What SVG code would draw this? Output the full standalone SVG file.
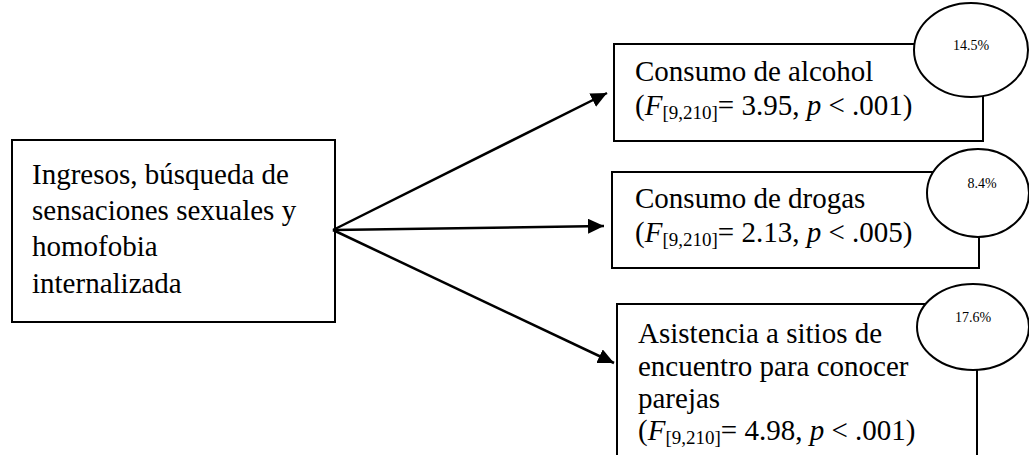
<svg xmlns="http://www.w3.org/2000/svg" width="1029" height="455" viewBox="0 0 1029 455">
<style>
.box{fill:#fff;stroke:#000;stroke-width:2}
.ell{fill:#fff;stroke:#000;stroke-width:2}
.t{font-family:"Liberation Serif","Times New Roman",serif;font-size:29px;fill:#000}
.pct{font-family:"Liberation Serif","Times New Roman",serif;font-size:14px;fill:#000;text-anchor:middle}
.sub{font-size:19px}
.it{font-style:italic}
.conn{stroke:#000;stroke-width:2.5;fill:none}
</style>
<defs>
<marker id="ah" markerUnits="userSpaceOnUse" markerWidth="18" markerHeight="16" refX="16" refY="7.5" orient="auto">
<path d="M0,0 L16,7.5 L0,15 z" fill="#000"/>
</marker>
</defs>
<g id="source">
<rect class="box" x="12" y="140" width="323" height="182"/>
<text class="t" x="32" y="184">Ingresos, búsqueda de</text>
<text class="t" x="32" y="220">sensaciones sexuales y</text>
<text class="t" x="32" y="256">homofobia</text>
<text class="t" x="32" y="293">internalizada</text>
</g>
<g id="alcohol">
<rect class="box" x="614" y="44" width="369" height="97"/>
<text class="t" x="635" y="81">Consumo de alcohol</text>
<text class="t" x="635" y="115">(<tspan class="it">F</tspan><tspan class="sub" dy="4">[9,210]</tspan><tspan dy="-4">= 3.95, </tspan><tspan class="it">p</tspan> &lt; .001)</text>
<ellipse class="ell" cx="971" cy="50" rx="57" ry="47"/>
<text class="pct" x="971" y="50">14.5%</text>
</g>
<g id="drogas">
<rect class="box" x="612" y="172" width="367" height="96"/>
<text class="t" x="635" y="208">Consumo de drogas</text>
<text class="t" x="635" y="242">(<tspan class="it">F</tspan><tspan class="sub" dy="4">[9,210]</tspan><tspan dy="-4">= 2.13, </tspan><tspan class="it">p</tspan> &lt; .005)</text>
<ellipse class="ell" cx="978" cy="193" rx="51" ry="44"/>
<text class="pct" x="982" y="188">8.4%</text>
</g>
<g id="sitios">
<rect class="box" x="617" y="304" width="360" height="160"/>
<text class="t" x="638" y="343">Asistencia a sitios de</text>
<text class="t" x="638" y="376">encuentro para conocer</text>
<text class="t" x="638" y="408">parejas</text>
<text class="t" x="638" y="440">(<tspan class="it">F</tspan><tspan class="sub" dy="4">[9,210]</tspan><tspan dy="-4">= 4.98, </tspan><tspan class="it">p</tspan> &lt; .001)</text>
<ellipse class="ell" cx="973" cy="327" rx="56" ry="43"/>
<text class="pct" x="973" y="322">17.6%</text>
</g>
<g id="connectors">
<line class="conn" x1="333" y1="230" x2="607" y2="93" marker-end="url(#ah)"/>
<line class="conn" x1="333" y1="230" x2="604" y2="226" marker-end="url(#ah)"/>
<line class="conn" x1="333" y1="230" x2="614" y2="363" marker-end="url(#ah)"/>
</g>
</svg>
